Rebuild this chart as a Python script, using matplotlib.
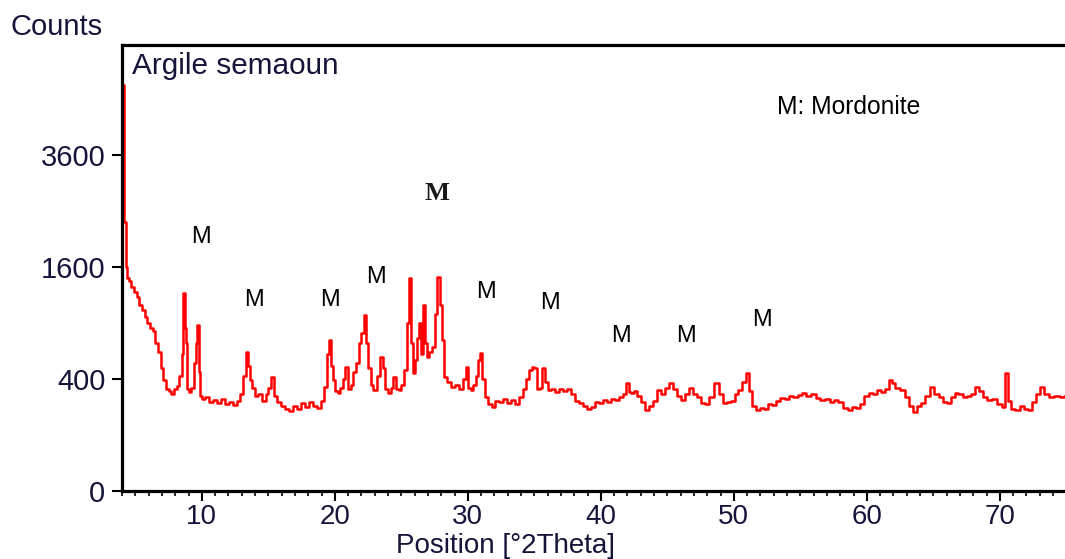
import numpy as np
import matplotlib.pyplot as plt
from matplotlib.ticker import MultipleLocator

# XRD pattern (2theta in degrees, intensity in counts)
two_theta = [
    4.02, 4.10, 4.16, 4.24, 4.32, 4.45, 4.60, 4.80, 5.00, 5.20, 5.40, 5.60, 5.80, 6.00,
    6.20, 6.40, 6.60, 6.80, 7.00, 7.20, 7.40, 7.60, 7.80, 8.00, 8.20, 8.40, 8.55, 8.65,
    8.75, 8.85, 8.95, 9.10, 9.30, 9.50, 9.60, 9.70, 9.80, 9.90, 10.1, 10.4, 10.7, 11.0,
    11.3, 11.6, 11.9, 12.2, 12.5, 12.8, 13.0, 13.2, 13.4, 13.5, 13.7, 13.9, 14.1, 14.4,
    14.7, 14.9, 15.1, 15.3, 15.5, 15.8, 16.1, 16.4, 16.7, 17.0, 17.3, 17.6, 17.9, 18.2,
    18.5, 18.8, 19.1, 19.3, 19.5, 19.6, 19.75, 19.9, 20.1, 20.3, 20.5, 20.7, 20.9, 21.1,
    21.3, 21.5, 21.7, 21.9, 22.1, 22.25, 22.4, 22.6, 22.8, 23.0, 23.3, 23.5, 23.7, 23.9,
    24.1, 24.3, 24.5, 24.7, 24.9, 25.1, 25.3, 25.5, 25.65, 25.8, 25.95, 26.1, 26.3, 26.4,
    26.55, 26.7, 26.85, 27.0, 27.2, 27.4, 27.6, 27.8, 27.95, 28.1, 28.3, 28.6, 28.9, 29.2,
    29.5, 29.8, 29.9, 30.1, 30.3, 30.5, 30.7, 30.9, 31.0, 31.2, 31.4, 31.7, 31.9, 32.2,
    32.5, 32.8, 33.1, 33.4, 33.7, 34.0, 34.3, 34.5, 34.7, 34.9, 35.1, 35.3, 35.5, 35.7,
    35.9, 36.1, 36.4, 36.7, 37.0, 37.3, 37.6, 37.9, 38.2, 38.5, 38.8, 39.1, 39.4, 39.7,
    40.0, 40.3, 40.6, 40.9, 41.2, 41.5, 41.8, 42.0, 42.2, 42.4, 42.6, 42.9, 43.2, 43.5,
    43.8, 44.1, 44.4, 44.7, 45.0, 45.3, 45.6, 45.9, 46.2, 46.5, 46.8, 47.1, 47.4, 47.7,
    48.0, 48.3, 48.7, 49.0, 49.3, 49.6, 49.9, 50.2, 50.5, 50.8, 51.05, 51.3, 51.5, 51.8,
    52.1, 52.4, 52.7, 53.0, 53.3, 53.7, 54.0, 54.3, 54.6, 55.0, 55.3, 55.6, 56.0, 56.3,
    56.7, 57.0, 57.4, 57.7, 58.0, 58.4, 58.7, 59.0, 59.3, 59.6, 60.0, 60.3, 60.6, 60.9,
    61.2, 61.5, 61.8, 62.0, 62.3, 62.7, 63.0, 63.3, 63.6, 63.9, 64.2, 64.6, 64.95, 65.2,
    65.6, 65.9, 66.2, 66.5, 66.7, 67.0, 67.4, 67.7, 68.0, 68.3, 68.6, 68.9, 69.2, 69.6,
    70.0, 70.3, 70.55, 70.7, 71.0, 71.3, 71.7, 72.0, 72.3, 72.6, 72.9, 73.2, 73.5, 73.9,
    74.3, 74.7, 75.0,
]
counts = [
    5260, 5260, 2300, 2300, 1600, 1450, 1400, 1330, 1260, 1200, 1100, 1040, 960, 900,
    850, 820, 700, 620, 480, 390, 330, 320, 300, 330, 350, 420, 600, 1250,
    850, 700, 330, 310, 340, 520, 700, 880, 450, 290, 270, 280, 250, 265,
    245, 270, 240, 255, 235, 260, 300, 420, 616, 500, 390, 340, 290, 300,
    260, 300, 340, 414, 290, 250, 230, 215, 205, 230, 215, 245, 225, 250,
    230, 220, 260, 345, 600, 727, 500, 393, 320, 306, 340, 400, 490, 330,
    360, 450, 520, 698, 800, 988, 700, 480, 360, 325, 420, 573, 480, 330,
    306, 340, 414, 330, 325, 360, 467, 900, 1447, 700, 444, 550, 750, 900,
    600, 1103, 700, 573, 620, 661, 1000, 1460, 1100, 727, 414, 380, 345, 360,
    330, 400, 490, 340, 325, 360, 420, 550, 607, 400, 282, 240, 225, 260,
    250, 270, 245, 265, 240, 280, 330, 400, 467, 490, 480, 330, 340, 482,
    380, 325, 330, 315, 335, 320, 330, 300, 260, 247, 230, 215, 225, 250,
    245, 264, 255, 270, 262, 280, 300, 372, 310, 306, 320, 290, 250, 209,
    230, 260, 325, 300, 340, 372, 330, 290, 264, 300, 338, 300, 280, 247,
    240, 280, 372, 300, 247, 250, 260, 300, 325, 380, 444, 320, 230, 210,
    220, 215, 240, 235, 260, 276, 270, 290, 280, 294, 306, 285, 300, 275,
    264, 270, 255, 264, 250, 220, 209, 225, 220, 240, 290, 306, 300, 325,
    310, 330, 393, 370, 340, 325, 280, 230, 199, 230, 247, 290, 345, 300,
    282, 250, 247, 280, 306, 300, 282, 290, 300, 345, 320, 280, 264, 270,
    240, 225, 444, 260, 215, 209, 230, 215, 209, 250, 300, 345, 300, 282,
    290, 282, 285,
]

# "M" (mordenite) marker labels: 2theta position and label height in counts
m_pos = [9.9, 13.9, 19.6, 23.1, 31.4, 36.2, 41.5, 46.4, 52.1]
m_height = [2060, 1160, 1160, 1460, 1260, 1130, 770, 770, 930]
m_main_pos = 27.7
m_main_height = 2830

y_ticks = [0, 400, 1600, 3600]
x_ticks = [10, 20, 30, 40, 50, 60, 70]

plt.rcParams['font.family'] = ['Liberation Sans', 'DejaVu Sans']
text_col = '#15153a'

fig = plt.figure(figsize=(10.65, 5.59), dpi=100)
ax = fig.add_axes([0.1146, 0.1216, 0.8854, 0.798])

ax.plot(two_theta, counts, color='#ff0000', lw=1.8, drawstyle='steps-mid')

ax.set_yscale('function', functions=(lambda v: np.sqrt(np.clip(v, 0, None)), lambda v: v ** 2))
ax.set_xlim(4, 74.9)
ax.set_ylim(0, 6343)
ax.set_yticks(y_ticks)
ax.set_yticklabels([str(t) for t in y_ticks])
ax.set_xticks(x_ticks)
ax.xaxis.set_minor_locator(MultipleLocator(1))
ax.yaxis.set_minor_locator(plt.NullLocator())

ax.tick_params(axis='both', which='major', direction='out', length=7, width=1.5,
               labelsize=21, colors='black', labelcolor=text_col)
ax.tick_params(axis='x', which='major', labelsize=20, pad=2)
ax.tick_params(axis='y', which='major', pad=5)
ax.tick_params(axis='x', which='minor', direction='out', length=3.5, width=1.2)

for side in ['left', 'top', 'bottom']:
    ax.spines[side].set_linewidth(2.3)
ax.spines['right'].set_visible(False)

# peak labels
for x, y in zip(m_pos, m_height):
    ax.text(x, y, 'M', fontsize=17, ha='center', va='center', color='black')
ax.text(m_main_pos, m_main_height, 'M', fontsize=19, ha='center', va='center',
        family='Liberation Serif', fontweight='bold', color='#1a1a1a')

ax.text(0.011, 0.985, 'Argile semaoun', transform=ax.transAxes, fontsize=21.4,
        ha='left', va='top', color=text_col)
ax.text(0.695, 0.86, 'M: Mordonite', transform=ax.transAxes, fontsize=17.7,
        ha='left', va='center', color='black')

fig.text(0.0094, 0.952, 'Counts', fontsize=21, ha='left', va='center', color=text_col)
fig.text(0.4746, 0.0005, 'Position [°2Theta]', fontsize=20, ha='center', va='bottom',
         color=text_col)

fig.savefig('out.png', dpi=100)
